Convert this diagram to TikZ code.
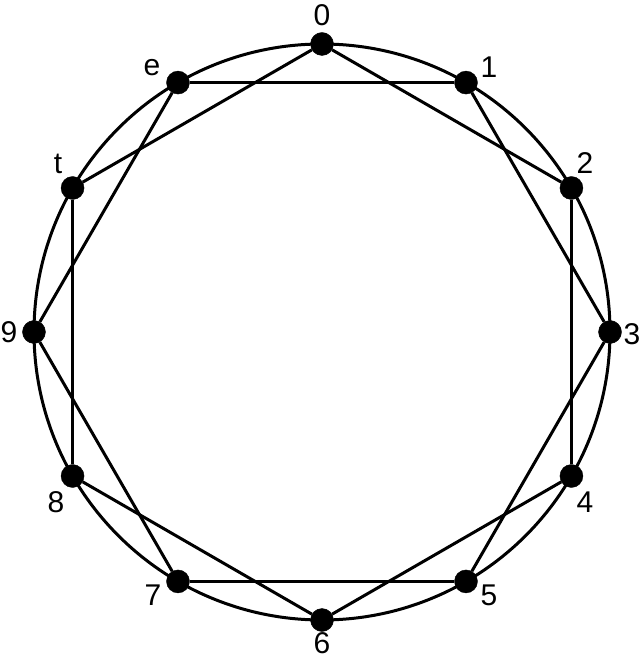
\documentclass[tikz,border=0pt]{standalone}
\usepackage{fontspec}
\setmainfont{Liberation Sans}
\usepackage{tikz}
\usetikzlibrary{positioning}
\tikzset{PCDot/.style={circle,fill=black,draw=black,inner sep=0pt,minimum size=23pt}}
\tikzset{PCLabel/.style={inner sep=0pt,font=\fontsize{30}{33}\selectfont}}
\tikzset{PCLine/.style={line width=3pt}}

\begin{document}
\begin{tikzpicture}[x=1pt,y=1pt]
\useasboundingbox (-322,-328) rectangle (320,332);
\coordinate (c) at (0,0);
\draw [PCLine] (c) circle (288);
\node (p0) at (90:288) [PCDot] {};
\node (p1) at (60:288) [PCDot] {};
\node (p2) at (30:288) [PCDot] {};
\node (p3) at (0:288) [PCDot] {};
\node (p4) at (-30:288) [PCDot] {};
\node (p5) at (-60:288) [PCDot] {};
\node (p6) at (-90:288) [PCDot] {};
\node (p7) at (-120:288) [PCDot] {};
\node (p8) at (-150:288) [PCDot] {};
\node (p9) at (180:288) [PCDot] {};
\node (pt) at (150:288) [PCDot] {};
\node (pe) at (120:288) [PCDot] {};
\node (l0) at (0,317) [PCLabel] {0};
\node (l1) at (167,265) [PCLabel] {1};
\node (l2) at (263,169) [PCLabel] {2};
\node (l3) at (310,-2) [PCLabel] {3};
\node (l4) at (263,-170) [PCLabel] {4};
\node (l5) at (167,-263) [PCLabel] {5};
\node (l6) at (0,-311) [PCLabel] {6};
\node (l7) at (-169,-263) [PCLabel] {7};
\node (l8) at (-266,-170) [PCLabel] {8};
\node (l9) at (-313,0) [PCLabel] {9};
\node (lt) at (-264,168) [PCLabel] {t};
\node (le) at (-170,264) [PCLabel] {e};
% even hexagon
\draw [PCLine] (p0) -- (p2);
\draw [PCLine] (p2) -- (p4);
\draw [PCLine] (p4) -- (p6);
\draw [PCLine] (p6) -- (p8);
\draw [PCLine] (p8) -- (pt);
\draw [PCLine] (pt) -- (p0);
% odd hexagon
\draw [PCLine] (p1) -- (p3);
\draw [PCLine] (p3) -- (p5);
\draw [PCLine] (p5) -- (p7);
\draw [PCLine] (p7) -- (p9);
\draw [PCLine] (p9) -- (pe);
\draw [PCLine] (pe) -- (p1);
\end{tikzpicture}
\end{document}
